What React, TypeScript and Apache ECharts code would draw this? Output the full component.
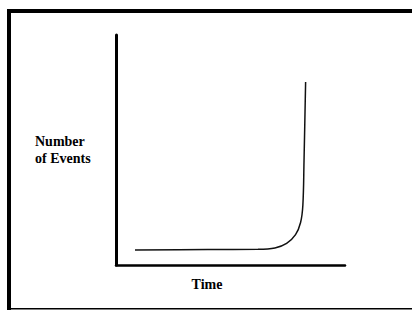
import React, { useEffect, useRef } from "react";
import * as echarts from "echarts";

const timeValues: number[] = [8.3, 40.0, 62.0, 69.4, 74.5, 78.4, 80.6, 81.6, 82.1, 82.8];
const eventValues: number[] = [6.5, 6.7, 6.8, 7.4, 9.4, 13.2, 18.5, 26.0, 45.0, 79.6];
const xAxisName = "Time";
const yAxisName = "Number\nof Events";

export default function App() {
  const ref = useRef<HTMLDivElement>(null);
  useEffect(() => {
    if (!ref.current) return;
    const chart = echarts.init(ref.current, null, { renderer: "svg" });
    const data = timeValues.map((t, i) => [t, eventValues[i]]);
    const font = "Liberation Serif";
    chart.setOption({
      animation: false,
      backgroundColor: "#ffffff",
      grid: { left: 116, top: 35, width: 229, height: 230 },
      xAxis: {
        type: "value",
        min: 0,
        max: 100,
        name: xAxisName,
        nameLocation: "middle",
        nameGap: 12,
        nameTextStyle: {
          fontFamily: font,
          fontWeight: "bold",
          fontSize: 14,
          color: "#000",
          padding: [0, 47, 0, 0],
        },
        axisLine: { show: true, lineStyle: { color: "#000", width: 2.5 } },
        axisTick: { show: false },
        axisLabel: { show: false },
        splitLine: { show: false },
      },
      yAxis: {
        type: "value",
        min: 0,
        max: 100,
        name: yAxisName,
        nameLocation: "middle",
        nameRotate: 0,
        nameGap: 81,
        nameTextStyle: {
          fontFamily: font,
          fontWeight: "bold",
          fontSize: 14,
          lineHeight: 17,
          color: "#000",
          align: "left",
          verticalAlign: "middle",
        },
        axisLine: { show: true, lineStyle: { color: "#000", width: 3 } },
        axisTick: { show: false },
        axisLabel: { show: false },
        splitLine: { show: false },
      },
      graphic: [
        { type: "rect", shape: { x: 7, y: 9, width: 405, height: 4 }, style: { fill: "#000" } },
        { type: "rect", shape: { x: 7, y: 9, width: 4, height: 301 }, style: { fill: "#000" } },
        { type: "rect", shape: { x: 7, y: 308, width: 405, height: 1.5 }, style: { fill: "#000" } },
      ],
      series: [
        {
          type: "line",
          data,
          showSymbol: false,
          smooth: 0.35,
          lineStyle: { color: "#111", width: 1.5 },
        },
      ],
    });
    return () => chart.dispose();
  }, []);
  return (
    <div
      ref={ref}
      style={{ position: "fixed", left: 0, top: 0, width: 412, height: 310 }}
    />
  );
}
